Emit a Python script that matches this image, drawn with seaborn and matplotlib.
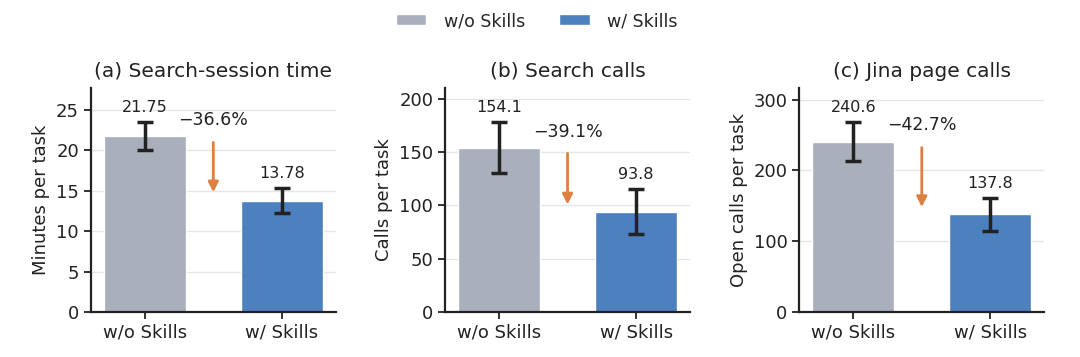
import numpy as np
import pandas as pd
import matplotlib
matplotlib.use("Agg")
import matplotlib.pyplot as plt
from matplotlib.patches import Patch
import seaborn as sns

conditions = ["w/o Skills", "w/ Skills"]
titles = ["(a) Search-session time", "(b) Search calls", "(c) Jina page calls"]
ylabels = ["Minutes per task", "Calls per task", "Open calls per task"]
means = [[21.75, 13.78], [154.1, 93.8], [240.6, 137.8]]
err_low = [[20.0, 12.3], [130.0, 73.0], [213.0, 115.0]]
err_high = [[23.5, 15.3], [178.0, 115.0], [268.0, 161.0]]
value_labels = [["21.75", "13.78"], ["154.1", "93.8"], ["240.6", "137.8"]]
reductions = ["\u221236.6%", "\u221239.1%", "\u221242.7%"]
yticks = [[0, 5, 10, 15, 20, 25], [0, 50, 100, 150, 200], [0, 100, 200, 300]]

palette = {"w/o Skills": "#a9b0bb", "w/ Skills": "#4c80bf"}
arrow_color = "#dd8042"
err_color = "#222222"

sns.set_theme(style="ticks")
plt.rcParams["font.family"] = ["DejaVu Sans"]

fig, axes = plt.subplots(1, 3, figsize=(10.8, 3.57), dpi=100)
fig.subplots_adjust(left=0.084, right=0.967, bottom=0.126, top=0.7535, wspace=0.445)

for i, ax in enumerate(axes):
    df = pd.DataFrame({"cond": conditions, "val": means[i]})
    sns.barplot(data=df, x="cond", y="val", hue="cond", palette=palette,
                order=conditions, hue_order=conditions, dodge=False,
                legend=False, width=0.6, errorbar=None, saturation=1,
                ax=ax, zorder=2)
    m = np.array(means[i])
    lo = m - np.array(err_low[i])
    hi = np.array(err_high[i]) - m
    ax.errorbar([0, 1], m, yerr=[lo, hi], fmt="none", ecolor=err_color,
                elinewidth=2.5, capsize=6, capthick=2.5, zorder=3)
    for j in range(2):
        ax.annotate(value_labels[i][j], xy=(j, err_high[i][j]), xytext=(0, 5),
                    textcoords="offset points", ha="center", va="bottom",
                    fontsize=11.5, color="#222222")
    top = max(err_high[i]) * 1.18
    ax.set_ylim(0, top)
    ax.set_xlim(-0.394, 1.394)
    ax.set_yticks(yticks[i])
    ax.yaxis.grid(True, color="#e3e6ea", linewidth=1, zorder=0)
    ax.set_axisbelow(True)
    ax.set_title(titles[i], fontsize=14.5, color="#222222", pad=8)
    ax.set_ylabel(ylabels[i], fontsize=13, color="#222222")
    ax.set_xlabel("")
    ax.tick_params(axis="both", labelsize=13, colors="#222222", length=5, width=1.3)
    for s in ["left", "bottom"]:
        ax.spines[s].set_linewidth(1.6)
        ax.spines[s].set_color("#222222")
    sns.despine(ax=ax)
    # reduction annotation
    ax.annotate("", xy=(0.5, m[1] * 1.075), xytext=(0.5, m[0] * 0.965),
                arrowprops=dict(arrowstyle="-|>", color=arrow_color, lw=2,
                                mutation_scale=15, shrinkA=0, shrinkB=0))
    ax.text(0.5, m[0] * 1.095, reductions[i], ha="center", va="center",
            fontsize=12.5, color="#222222")

handles = [Patch(facecolor=palette[c], label=c) for c in conditions]
fig.legend(handles=handles, loc="upper center", bbox_to_anchor=(0.497, 1.01), ncol=2,
           frameon=False, fontsize=12.5, handlelength=1.75, handleheight=0.6,
           handletextpad=1.0, columnspacing=2.0)

fig.savefig("out.png", dpi=100)
